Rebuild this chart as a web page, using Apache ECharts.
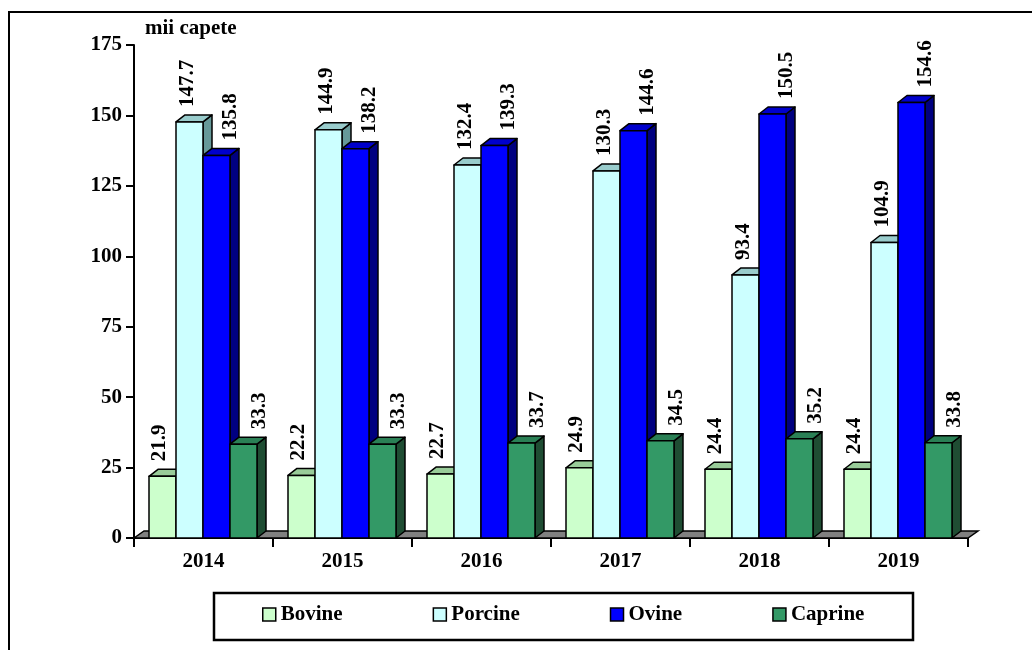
<!DOCTYPE html>
<html>
<head>
<meta charset="utf-8">
<script src="https://cdn.jsdelivr.net/npm/echarts@6/dist/echarts.min.js"></script>
<style>
html,body{margin:0;padding:0;background:#fff;}
#chart{width:1032px;height:650px;}
</style>
</head>
<body>
<div id="chart"></div>
<script>
const categories = ['2014', '2015', '2016', '2017', '2018', '2019'];
const bovine  = [21.9, 22.2, 22.7, 24.9, 24.4, 24.4];
const porcine = [147.7, 144.9, 132.4, 130.3, 93.4, 104.9];
const ovine   = [135.8, 138.2, 139.3, 144.6, 150.5, 154.6];
const caprine = [33.3, 33.3, 33.7, 34.5, 35.2, 33.8];
const seriesNames = ['Bovine', 'Porcine', 'Ovine', 'Caprine'];
const yMin = 0, yMax = 175, yStep = 25;
const unitLabel = 'mii capete';

const seriesValues = [bovine, porcine, ovine, caprine];
const palette = [
  {front: '#CCFFCC', top: '#99CC99', side: '#669966'},
  {front: '#CCFFFF', top: '#99CCCC', side: '#669999'},
  {front: '#0000FF', top: '#0000CC', side: '#000080'},
  {front: '#339966', top: '#2A8055', side: '#1F4D33'}
];
const FONT = '"Liberation Serif", "Times New Roman", serif';
const OFFSET = 15 / 139, BARW = 27 / 139;
const DX = 9, DY = 7, FDX = 10, FDY = 7;
const LABEL_DX = [-3, -2, 14, 16];
const LABEL_GAP = 15;

const chart = echarts.init(document.getElementById('chart'), null, {renderer: 'canvas'});

function makeBarRender(s) {
  return function (params, api) {
    const idx = api.value(0);
    const val = api.value(1);
    const base = api.coord([idx, 0]);
    const topP = api.coord([idx, val]);
    const W = api.size([1, 0])[0];
    const x0 = base[0] - W / 2 + W * (OFFSET + s * BARW);
    const x1 = x0 + W * BARW;
    const yb = base[1], yt = topP[1];
    const c = palette[s];
    const line = {stroke: '#000', lineWidth: 1.5, lineJoin: 'round'};
    return {
      type: 'group',
      children: [
        {type: 'polygon', shape: {points: [[x1, yt], [x1 + DX, yt - DY], [x1 + DX, yb - DY], [x1, yb]]},
         style: Object.assign({fill: c.side}, line)},
        {type: 'polygon', shape: {points: [[x0, yt], [x0 + DX, yt - DY], [x1 + DX, yt - DY], [x1, yt]]},
         style: Object.assign({fill: c.top}, line)},
        {type: 'rect', shape: {x: x0, y: yt, width: x1 - x0, height: yb - yt},
         style: Object.assign({fill: c.front}, line)},
        {type: 'text', z2: 100, x: (x0 + x1) / 2 + LABEL_DX[s], y: yt - LABEL_GAP, rotation: Math.PI / 2,
         style: {text: val.toFixed(1), align: 'left', verticalAlign: 'middle',
                 font: 'bold 21px ' + FONT, fill: '#000'}}
      ]
    };
  };
}

const series = [{
  name: 'floor',
  type: 'custom',
  silent: true,
  data: [[0, 0]],
  renderItem: function (params, api) {
    const cs = params.coordSys;
    const yb = api.coord([0, 0])[1];
    return {
      type: 'polygon',
      shape: {points: [[cs.x, yb], [cs.x + FDX, yb - FDY], [cs.x + cs.width + FDX, yb - FDY], [cs.x + cs.width, yb]]},
      style: {fill: '#808080', stroke: '#000', lineWidth: 1.5}
    };
  }
}];
seriesNames.forEach(function (name, s) {
  series.push({
    name: name,
    type: 'custom',
    itemStyle: {color: palette[s].front, borderColor: '#000', borderWidth: 1.5},
    data: categories.map(function (c, i) { return [i, seriesValues[s][i]]; }),
    renderItem: makeBarRender(s)
  });
});

chart.setOption({
  animation: false,
  backgroundColor: '#fff',
  grid: {left: 134, right: 64, top: 45, bottom: 112, containLabel: false},
  xAxis: {
    type: 'category',
    data: categories,
    boundaryGap: true,
    axisLine: {show: true, lineStyle: {color: '#000', width: 2}},
    axisTick: {show: true, alignWithLabel: false, length: 9, lineStyle: {color: '#000', width: 2}},
    axisLabel: {color: '#000', fontWeight: 'bold', fontSize: 21, fontFamily: FONT, margin: 13},
    splitLine: {show: false}
  },
  yAxis: {
    type: 'value',
    min: yMin, max: yMax, interval: yStep,
    name: unitLabel,
    nameLocation: 'end',
    nameGap: 6,
    nameTextStyle: {color: '#000', fontWeight: 'bold', fontSize: 21, fontFamily: FONT, align: 'left', padding: [0, 0, 0, 11]},
    axisLine: {show: true, lineStyle: {color: '#000', width: 2}},
    axisTick: {show: true, length: 8, lineStyle: {color: '#000', width: 2}},
    axisLabel: {color: '#000', fontWeight: 'bold', fontSize: 21, fontFamily: FONT, margin: 12},
    splitLine: {show: false}
  },
  legend: {
    left: 262, top: 604,
    itemGap: 90, itemWidth: 13, itemHeight: 13, padding: 0,
    icon: 'rect',
    textStyle: {color: '#000', fontWeight: 'bold', fontSize: 21, fontFamily: FONT},
    data: seriesNames.map(function (n, s) {
      return {name: n, icon: 'rect', itemStyle: {color: palette[s].front, borderColor: '#000', borderWidth: 1.5}};
    })
  },
  graphic: [
    {type: 'rect', silent: true, shape: {x: 9, y: 12, width: 1040, height: 660},
     style: {fill: 'none', stroke: '#000', lineWidth: 2}},
    {type: 'rect', silent: true, shape: {x: 214, y: 593, width: 699, height: 47},
     style: {fill: 'none', stroke: '#000', lineWidth: 2.5}}
  ],
  series: series
});
</script>
</body>
</html>
